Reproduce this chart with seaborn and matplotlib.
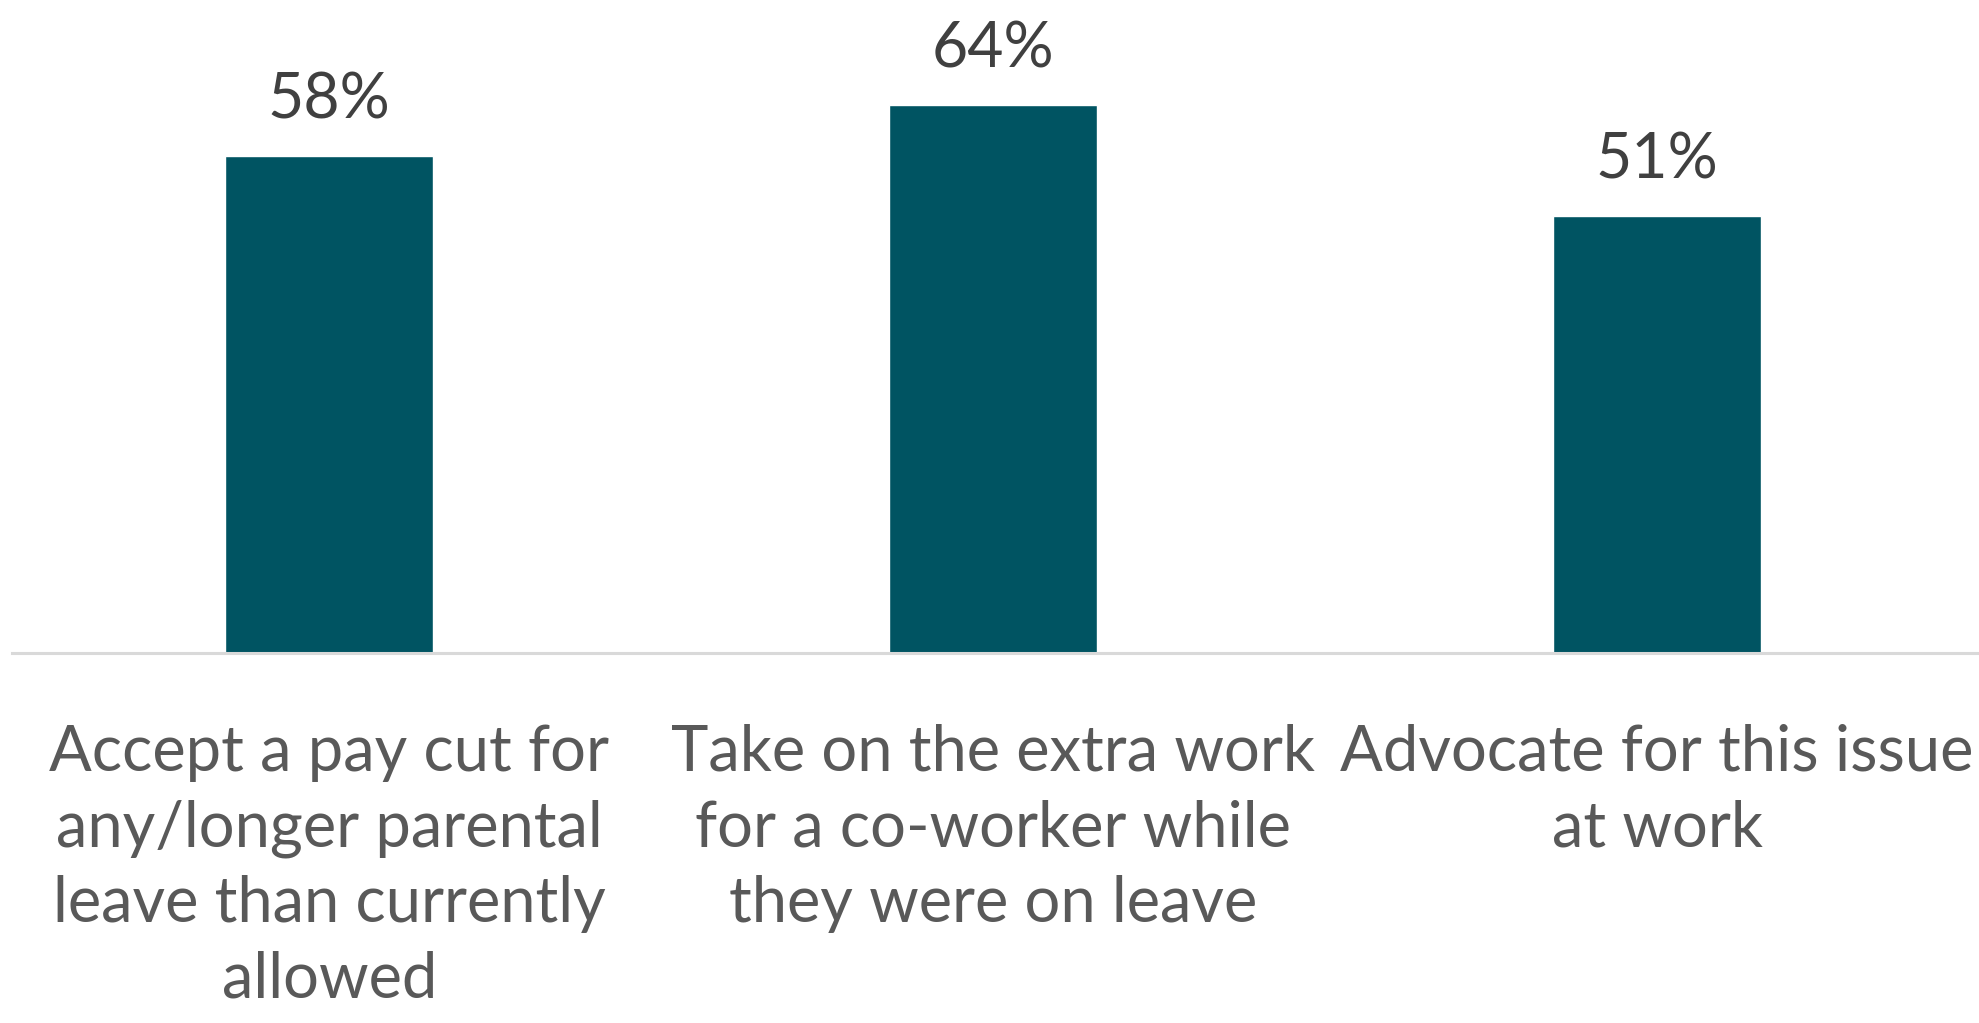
import matplotlib
matplotlib.use("Agg")
import matplotlib.pyplot as plt
import seaborn as sns
import pandas as pd

categories = [
    "Accept a pay cut for\nany/longer parental\nleave than currently\nallowed",
    "Take on the extra work\nfor a co-worker while\nthey were on leave",
    "Advocate for this issue\nat work",
]
values = [58, 64, 51]

sns.set_theme(style="white")
plt.rcParams["font.family"] = ["Lato", "DejaVu Sans"]

df = pd.DataFrame({"category": categories, "value": values})

fig = plt.figure(figsize=(19.79, 10.23), dpi=100)
ax = fig.add_axes([12 / 1979, 1 - 653 / 1023, 1 - 12 / 1979, 653 / 1023])

sns.barplot(data=df, x="category", y="value", color="#005462", saturation=1,
            width=0.313, ax=ax)

ax.set_xlim(-0.478, 2.485)
ax.set_ylim(0, 76.2)
ax.set_xlabel("")
ax.set_ylabel("")
ax.set_yticks([])
for s in ["top", "left", "right"]:
    ax.spines[s].set_visible(False)
ax.spines["bottom"].set_color("#D9D9D9")
ax.spines["bottom"].set_linewidth(2.2)

for cont in ax.containers:
    ax.bar_label(cont, fmt="%.0f%%", padding=19, fontsize=45, color="#404040")

ax.tick_params(axis="x", length=0, pad=51)
for lab in ax.get_xticklabels():
    lab.set_fontsize(45.5)
    lab.set_color("#595959")
    lab.set_multialignment("center")
    lab.set_linespacing(1.37)

fig.savefig("out.png", dpi=100)
